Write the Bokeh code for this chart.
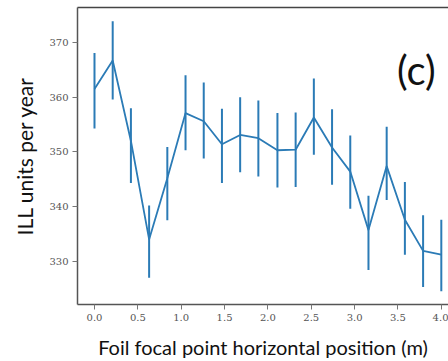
from bokeh.plotting import figure
from bokeh.models import Range1d, ColumnDataSource, Label, LinearAxis, FixedTicker, NumeralTickFormatter, Title
from bokeh.embed import file_html
from bokeh.resources import INLINE

# data
positions = [0.0, 0.21, 0.42, 0.63, 0.84, 1.05, 1.26, 1.47, 1.68, 1.89,
             2.11, 2.32, 2.53, 2.74, 2.95, 3.16, 3.37, 3.58, 3.79, 4.0]
ill_units = [361.5, 366.7, 352.0, 334.0, 345.2, 357.1, 355.6, 351.4, 353.1, 352.5,
             350.3, 350.4, 356.3, 350.8, 346.4, 335.7, 347.4, 337.6, 331.9, 331.2]
err_upper = [368.1, 373.9, 358.0, 340.2, 350.9, 364.0, 362.7, 357.9, 360.0, 359.4,
             357.1, 357.2, 363.4, 357.8, 353.0, 342.0, 354.6, 344.5, 338.4, 337.6]
err_lower = [354.3, 359.6, 344.3, 327.0, 337.5, 350.3, 348.8, 344.3, 346.3, 345.5,
             343.5, 343.6, 349.5, 344.0, 339.6, 328.4, 341.2, 331.2, 325.3, 324.5]
x_ticks = [0.0, 0.5, 1.0, 1.5, 2.0, 2.5, 3.0, 3.5, 4.0]
y_ticks = [330, 340, 350, 360, 370]
panel_label = "(c)"
x_label = "Foil focal point horizontal position (m)"
y_label = "ILL units per year"

src = ColumnDataSource(dict(x=positions, y=ill_units, lo=err_lower, hi=err_upper))

p = figure(width=448, height=361, output_backend="svg", toolbar_location=None,
           x_range=Range1d(-0.196, 4.083), y_range=Range1d(322.1, 376.4),
           min_border_left=77, min_border_right=0, min_border_top=7, min_border_bottom=57)
p.outline_line_color = None
p.xgrid.visible = False
p.ygrid.visible = False
p.background_fill_color = "white"
p.border_fill_color = "white"

blue = "#2b7bb6"
p.segment(x0="x", y0="lo", x1="x", y1="hi", source=src, line_color=blue, line_width=2)
p.line(x="x", y="y", source=src, line_color=blue, line_width=1.8)

for ax in (p.xaxis[0], p.yaxis[0]):
    ax.axis_line_color = "#555555"
    ax.axis_line_width = 1.5
    ax.major_tick_line_color = "#777777"
    ax.major_tick_line_width = 1
    ax.major_tick_out = 5
    ax.major_tick_in = 0
    ax.minor_tick_line_color = None
    ax.major_label_text_font = "DejaVu Serif"
    ax.major_label_text_font_size = "10px"
    ax.major_label_text_color = "#555555"
    ax.axis_label_text_font = "Lato"
    ax.axis_label_text_font_size = "20px"
    ax.axis_label_text_font_style = "normal"
    ax.axis_label_text_color = "#111111"

p.xaxis[0].ticker = FixedTicker(ticks=x_ticks)
p.xaxis[0].formatter = NumeralTickFormatter(format="0.0")
p.xaxis[0].axis_label = x_label
p.xaxis[0].major_label_standoff = 4
p.xaxis[0].axis_label_standoff = 11

p.yaxis[0].ticker = FixedTicker(ticks=y_ticks)
p.yaxis[0].major_label_standoff = 4

top = LinearAxis(ticker=FixedTicker(ticks=[]), major_label_text_font_size="0px",
                 axis_line_color="#444444", axis_line_width=1.5,
                 major_tick_line_color=None, minor_tick_line_color=None)
p.add_layout(top, "above")

# y axis title as a side title so it can sit slightly below the frame centre
p.add_layout(Title(text=y_label, align="center", offset=-10, standoff=19,
                   text_font="Lato", text_font_size="21px", text_font_style="normal",
                   text_color="#111111"), "left")

p.add_layout(Label(x=3.49, y=365.0, text=panel_label, text_font="Lato",
                   text_font_size="40px", text_color="#111111",
                   text_align="left", text_baseline="middle"))

open("out.html", "w").write(file_html(p, INLINE))
